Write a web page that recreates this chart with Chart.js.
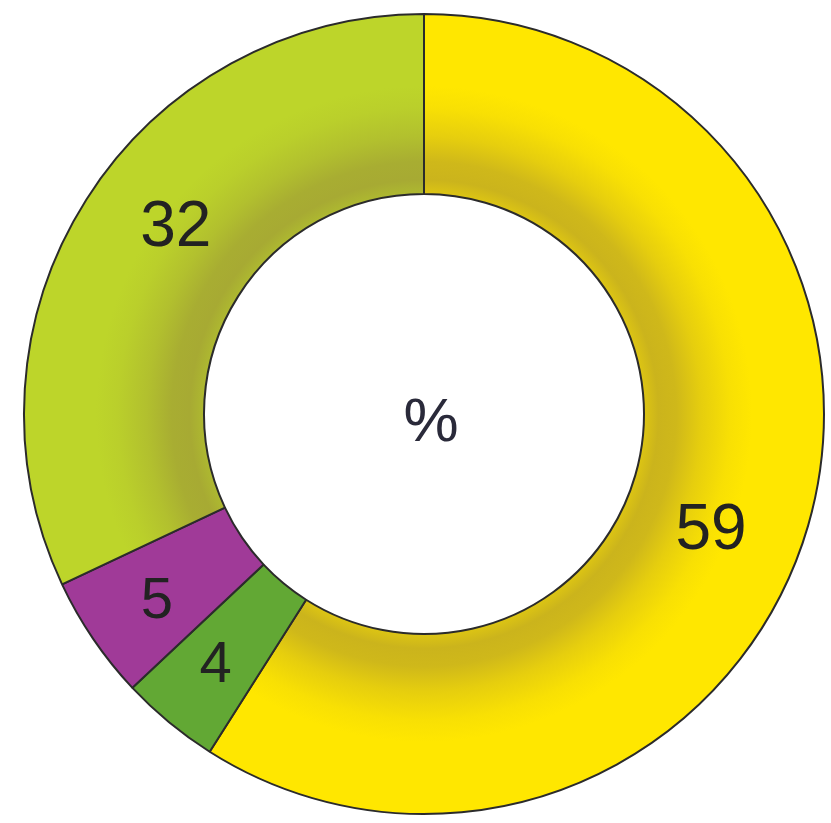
<!DOCTYPE html>
<html>
<head>
<meta charset="utf-8">
<script src="https://cdn.jsdelivr.net/npm/chart.js@4/dist/chart.umd.min.js"></script>
<style>
  html, body { margin: 0; padding: 0; background: #ffffff; }
  #wrap { width: 831px; height: 823px; position: relative; }
</style>
</head>
<body>
<div id="wrap"><canvas id="c"></canvas></div>
<script>
// ---- data ----
const categories = ["A", "B", "C", "D"];
const values = [59, 4, 5, 32];
const labelsText = ["59", "4", "5", "32"];
const centerText = "%";

// ---- style ----
const baseColors = ["#FFE700", "#62A834", "#A03A98", "#BDD52A"];
const shaded = [true, false, false, true];
const shadeRGB = [140, 118, 62];
const labelAngleShift = [6, 0, -1, 4.4];   // degrees
const labelRadiusShift = [0, 17, 17, 0];   // pixels
const labelSize = [64, 58, 58, 64];

function hexToRgb(h) {
  const n = parseInt(h.slice(1), 16);
  return [(n >> 16) & 255, (n >> 8) & 255, n & 255];
}
function mix(a, b, t) {
  const r = a.map((v, i) => Math.round(v * (1 - t) + b[i] * t));
  return "rgb(" + r.join(",") + ")";
}

function ringFill(context) {
  const i = context.dataIndex;
  const base = baseColors[i];
  if (!shaded[i]) return base;
  const chart = context.chart;
  const area = chart.chartArea;
  const ctrl = chart.getDatasetMeta(0).controller;
  if (!area || !ctrl || !ctrl.innerRadius) return base;
  const cx = (area.left + area.right) / 2;
  const cy = (area.top + area.bottom) / 2;
  const rIn = ctrl.innerRadius, rOut = ctrl.outerRadius;
  const g = chart.ctx.createRadialGradient(cx, cy, rIn, cx, cy, rOut);
  const b = hexToRgb(base);
  g.addColorStop(0.00, mix(b, shadeRGB, 0.30));
  g.addColorStop(0.08, mix(b, shadeRGB, 0.45));
  g.addColorStop(0.18, mix(b, shadeRGB, 0.42));
  g.addColorStop(0.32, mix(b, shadeRGB, 0.22));
  g.addColorStop(0.48, mix(b, shadeRGB, 0.06));
  g.addColorStop(0.60, base);
  g.addColorStop(1.00, base);
  return g;
}

const labelPlugin = {
  id: "ringLabels",
  afterDatasetsDraw(chart) {
    const ctx = chart.ctx;
    const meta = chart.getDatasetMeta(0);
    ctx.save();
    ctx.textAlign = "center";
    ctx.textBaseline = "middle";
    ctx.fillStyle = "#222222";
    meta.data.forEach((arc, i) => {
      const p = arc.getProps(["x", "y", "startAngle", "endAngle", "innerRadius", "outerRadius"], true);
      const a = (p.startAngle + p.endAngle) / 2 + labelAngleShift[i] * Math.PI / 180;
      const r = (p.innerRadius + p.outerRadius) / 2 + labelRadiusShift[i];
      ctx.font = labelSize[i] + "px 'Liberation Sans', Arial, sans-serif";
      ctx.fillText(labelsText[i], p.x + Math.cos(a) * r, p.y + Math.sin(a) * r);
    });
    const c = meta.data[0];
    ctx.fillStyle = "#2a2a3a";
    ctx.font = "62px 'Liberation Sans', Arial, sans-serif";
    ctx.fillText(centerText, c.x + 7, c.y + 10);
    ctx.restore();
  }
};

new Chart(document.getElementById("c"), {
  type: "doughnut",
  data: {
    labels: categories,
    datasets: [{
      data: values,
      backgroundColor: ringFill,
      borderColor: "#2b2b2b",
      borderWidth: 2,
      hoverOffset: 0,
      offset: 0
    }]
  },
  options: {
    responsive: true,
    maintainAspectRatio: false,
    animation: false,
    cutout: "55%",
    rotation: 0,
    layout: { padding: { left: 23, right: 6, top: 13, bottom: 8 } },
    plugins: {
      legend: { display: false },
      tooltip: { enabled: false }
    },
    events: []
  },
  plugins: [labelPlugin]
});
</script>
</body>
</html>
